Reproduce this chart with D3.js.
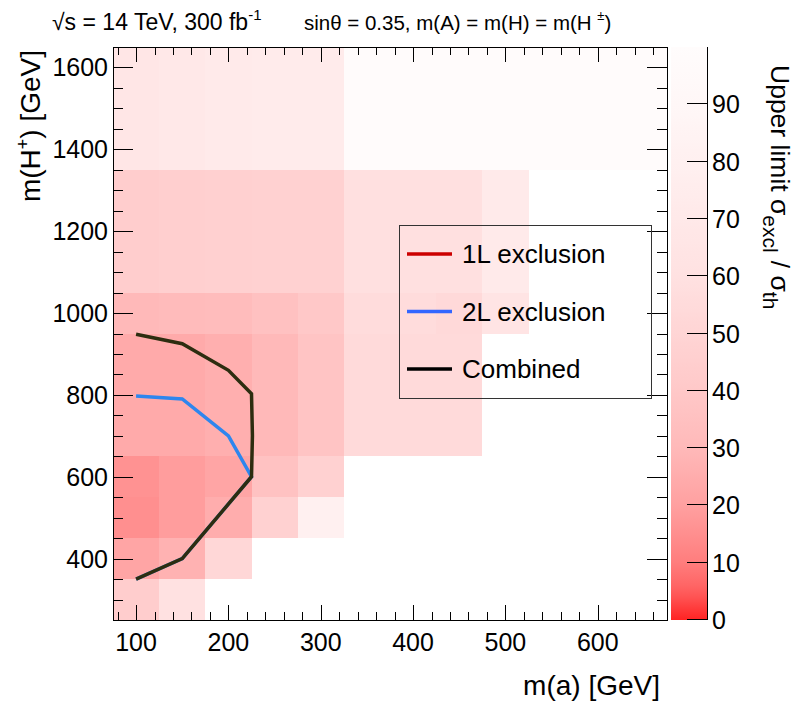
<!DOCTYPE html>
<html>
<head>
<meta charset="utf-8">
<script src="https://cdn.jsdelivr.net/npm/d3@7"></script>
<style>
  body { margin: 0; background: #fff; }
  text { font-family: "Liberation Sans", Arial, Helvetica, sans-serif; fill: #000; }
</style>
</head>
<body>
<svg id="chart" width="794" height="704"></svg>
<script>
// bin edges of the histogram
var rowEdges = [250, 350, 450, 550, 650, 950, 1050, 1350, 1650];
var colStart = 75, colWidth = 50;

// upper limit per row, one value per m(a) column starting at 75-125
var row300 = [44, 60];
var row400 = [22, 27, 52];
var row500 = [15, 19, 25, 47, 80];
var row600 = [16, 19, 22, 36, 47];
var row800 = [24, 24, 26, 30, 37, 54, 54, 54];
var row1000 = [30, 31, 32, 35, 40, 56, 56, 53, 64];
var row1200 = [44, 45, 46, 47, 47, 59, 59, 59, 72];
var row1500 = [66, 69, 72, 73, 73, 98, 98, 98, 98, 98, 98, 98];
var rows = [row300, row400, row500, row600, row800, row1000, row1200, row1500];

// exclusion contours [m(a), m(H+)]
var line2L = [[100, 797], [150, 790], [200, 700], [225, 600], [150, 400], [100, 350]];
var lineComb = [[100, 948], [150, 925], [200, 860], [225, 803], [226, 700], [225, 600], [150, 400], [100, 350]];

var legendItems = ["1L exclusion", "2L exclusion", "Combined"];
var legendColors = ["#cc0000", "#3366ff", "#000000"];

var xTicks = [100, 200, 300, 400, 500, 600];
var yTicks = [400, 600, 800, 1000, 1200, 1400, 1600];
var zTicks = [0, 10, 20, 30, 40, 50, 60, 70, 80, 90];

var svg = d3.select("#chart");

// frame
var x0 = 113, x1 = 667, y0 = 47, y1 = 620;

var xScale = d3.scaleLinear().domain([75, 675]).range([x0, x1]);
var yScale = d3.scaleLinear().domain([250, 1650]).range([y1, y0]);
var zScale = d3.scaleLinear().domain([0, 100]).range([y1, y0]);

// palette white -> red
var gStops = [35, 95, 125, 160, 185, 200, 213, 225, 233, 240, 247, 252];
var color = d3.scaleLinear()
  .domain([0, 5, 10, 20, 30, 40, 50, 60, 70, 80, 90, 100])
  .range(gStops.map(function(g) { return "rgb(255," + g + "," + g + ")"; }))
  .clamp(true);

// cells
var cells = [];
rows.forEach(function(vals, i) {
  vals.forEach(function(v, j) {
    cells.push({xa: colStart + j * colWidth, xb: colStart + (j + 1) * colWidth,
                ya: rowEdges[i], yb: rowEdges[i + 1], v: v});
  });
});

svg.append("g").selectAll("rect")
  .data(cells)
  .enter()
  .append("rect")
  .attr("x", function(d) { return xScale(d.xa); })
  .attr("y", function(d) { return yScale(d.yb); })
  .attr("width", function(d) { return xScale(d.xb) - xScale(d.xa); })
  .attr("height", function(d) { return yScale(d.ya) - yScale(d.yb); })
  .attr("fill", function(d) { return color(d.v); })
  .attr("shape-rendering", "crispEdges");

// contours
var line = d3.line()
  .x(function(d) { return xScale(d[0]); })
  .y(function(d) { return yScale(d[1]); });

svg.append("path").datum(line2L)
  .attr("d", line).attr("fill", "none")
  .attr("stroke", "#2e86ee").attr("stroke-width", 3.5);
svg.append("path").datum(lineComb)
  .attr("d", line).attr("fill", "none")
  .attr("stroke", "#2d2d10").attr("stroke-width", 3.5);

// ticks, ROOT style, inside the frame on all four sides
var axes = svg.append("g").attr("stroke", "#000").attr("stroke-width", 1);

d3.range(80, 675, 20).forEach(function(v) {
  var major = v % 100 === 0;
  var len = major ? 15 : 8;
  var x = Math.round(xScale(v)) + 0.5;
  axes.append("line").attr("x1", x).attr("x2", x).attr("y1", y1).attr("y2", y1 - len);
  axes.append("line").attr("x1", x).attr("x2", x).attr("y1", y0).attr("y2", y0 + len);
});
d3.range(300, 1650, 50).forEach(function(v) {
  var major = v % 200 === 0;
  var len = major ? 20 : 10;
  var y = Math.round(yScale(v)) + 0.5;
  axes.append("line").attr("x1", x0).attr("x2", x0 + len).attr("y1", y).attr("y2", y);
  axes.append("line").attr("x1", x1).attr("x2", x1 - len).attr("y1", y).attr("y2", y);
});

svg.append("rect")
  .attr("x", x0 + 0.5).attr("y", y0 + 0.5)
  .attr("width", x1 - x0).attr("height", y1 - y0)
  .attr("fill", "none").attr("stroke", "#000");

// tick labels
svg.append("g").selectAll("text")
  .data(xTicks)
  .enter()
  .append("text")
  .attr("x", function(d) { return xScale(d); })
  .attr("y", 651)
  .attr("text-anchor", "middle")
  .attr("font-size", 25)
  .text(function(d) { return d; });

svg.append("g").selectAll("text")
  .data(yTicks)
  .enter()
  .append("text")
  .attr("x", 108)
  .attr("y", function(d) { return yScale(d) + 9; })
  .attr("text-anchor", "end")
  .attr("font-size", 25)
  .text(function(d) { return d; });

// axis titles
svg.append("text")
  .attr("x", 660).attr("y", 695)
  .attr("text-anchor", "end")
  .attr("font-size", 28)
  .text("m(a) [GeV]");

var yTitle = svg.append("text")
  .attr("transform", "translate(40,50) rotate(-90)")
  .attr("text-anchor", "end")
  .attr("font-size", 28);
yTitle.append("tspan").text("m(H");
yTitle.append("tspan").attr("font-size", 18).attr("dy", -11).text("+");
yTitle.append("tspan").attr("dy", 11).text(") [GeV]");

// colour bar
var cbX0 = 671, cbX1 = 707;
var grad = svg.append("defs").append("linearGradient")
  .attr("id", "zgrad").attr("x1", 0).attr("y1", 1).attr("x2", 0).attr("y2", 0);
d3.range(0, 101, 2).forEach(function(v) {
  grad.append("stop").attr("offset", v / 100).attr("stop-color", color(v));
});
svg.append("rect")
  .attr("x", cbX0).attr("y", y0)
  .attr("width", cbX1 - cbX0).attr("height", y1 - y0)
  .attr("fill", "url(#zgrad)");
svg.append("line")
  .attr("x1", cbX1 + 0.5).attr("x2", cbX1 + 0.5).attr("y1", y0).attr("y2", y1)
  .attr("stroke", "#000");
svg.append("g").selectAll("line")
  .data(zTicks)
  .enter()
  .append("line")
  .attr("x1", cbX1).attr("x2", cbX1 - 20)
  .attr("y1", function(d) { return Math.round(zScale(d)) - 0.5; })
  .attr("y2", function(d) { return Math.round(zScale(d)) - 0.5; })
  .attr("stroke", "#000");
svg.append("g").selectAll("text")
  .data(zTicks)
  .enter()
  .append("text")
  .attr("x", 712)
  .attr("y", function(d) { return zScale(d) + 9; })
  .attr("font-size", 25)
  .text(function(d) { return d; });

var zTitle = svg.append("text")
  .attr("transform", "translate(771,65) rotate(90)")
  .attr("font-size", 26.5);
zTitle.append("tspan").text("Upper limit \u03c3");
zTitle.append("tspan").attr("font-size", 21).attr("dy", 8).text("excl");
zTitle.append("tspan").attr("dy", -8).attr("dx", 8).text("/ \u03c3");
zTitle.append("tspan").attr("font-size", 21).attr("dy", 8).text("th");

// header
var head1 = svg.append("text").attr("x", 52).attr("y", 30).attr("font-size", 23);
head1.append("tspan").text("\u221as = 14 TeV, 300 fb");
head1.append("tspan").attr("font-size", 15).attr("dy", -10).text("-1");
var head2 = svg.append("text").attr("x", 304).attr("y", 30).attr("font-size", 20.5);
head2.append("tspan").text("sin\u03b8 = 0.35, m(A) = m(H) = m(H  ");
head2.append("tspan").attr("font-size", 13).attr("dy", -10).text("\u00b1");
head2.append("tspan").attr("dy", 10).text(")");

// legend
var leg = svg.append("g");
leg.append("rect")
  .attr("x", 399.5).attr("y", 225.5).attr("width", 252).attr("height", 173)
  .attr("fill", "none").attr("stroke", "#333");
legendItems.forEach(function(name, i) {
  var y = 254 + i * 57.5;
  leg.append("line")
    .attr("x1", 407).attr("x2", 452).attr("y1", y).attr("y2", y)
    .attr("stroke", legendColors[i]).attr("stroke-width", 3.5);
  leg.append("text")
    .attr("x", 462).attr("y", y + 9)
    .attr("font-size", 26)
    .text(name);
});
</script>
</body>
</html>
